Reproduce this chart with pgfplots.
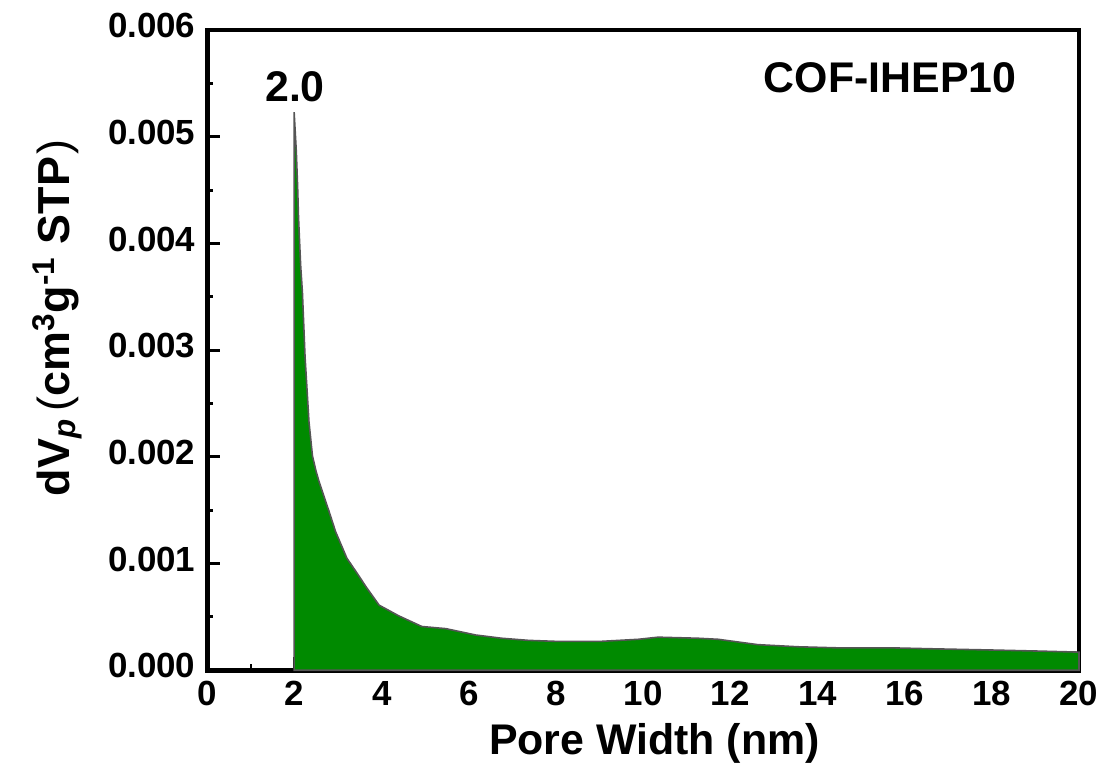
\documentclass[border=0pt]{standalone}
\usepackage{pgfplots}
\pgfplotsset{compat=1.18}
\usepackage{fontspec}
\setmainfont{Liberation Sans}
\definecolor{fillgreen}{RGB}{0,138,0}
\definecolor{edgegray}{RGB}{85,85,85}
\begin{document}
\begin{tikzpicture}
\begin{axis}[
  scale only axis,
  width=437pt, height=321pt,
  xmin=0, xmax=20, ymin=0, ymax=0.006,
  xtick={0,2,...,20},
  ytick={0,0.001,...,0.006},
  minor x tick num=1, minor y tick num=1,
  tick align=inside,
  xtick pos=bottom, ytick pos=left,
  major tick length=6.5pt, minor tick length=3pt,
  every tick/.style={black, line width=1.5pt},
  axis line style={line width=2.3pt},
  scaled y ticks=false,
  typeset ticklabels with strut,
  /pgf/number format/assume math mode=true,
  yticklabel style={/pgf/number format/fixed, /pgf/number format/fixed zerofill, /pgf/number format/precision=3, font=\fontsize{17.5}{19}\selectfont\bfseries, xshift=-2.5pt},
  xticklabel style={font=\fontsize{17.5}{19}\selectfont\bfseries, yshift=-1pt},
  xlabel={\bfseries Pore Width (nm)},
  ylabel={\bfseries dV\textsubscript{\textit{p}}\,{\mdseries(}cm\textsuperscript{3}g\textsuperscript{-1} STP\kern1pt{\mdseries)}},
  xlabel style={font=\fontsize{21.5}{24}\selectfont, at={(rel axis cs:0.513,-0.114)}, anchor=center},
  ylabel style={font=\fontsize{22.5}{24}\selectfont, at={(rel axis cs:-0.172,0.55)}, anchor=center},
  clip=false,
]
\addplot[fill=fillgreen, draw=edgegray, line width=0.8pt] coordinates {
(1.99,0) (1.99,0.00523) (2.04,0.00486) (2.07,0.00453) (2.09,0.00425)
(2.12,0.00397) (2.14,0.00379) (2.18,0.00354) (2.24,0.00294) (2.33,0.00233)
(2.41,0.00201) (2.49,0.00187) (2.56,0.00177) (2.79,0.00149) (2.94,0.00130)
(3.20,0.00105) (3.40,0.00093) (3.66,0.00077) (3.94,0.00061) (4.39,0.00051)
(4.92,0.00041) (5.47,0.00039) (6.16,0.00033) (6.75,0.00030) (7.37,0.00028)
(8.05,0.00027) (9.0,0.00027) (9.89,0.00029) (10.34,0.00031) (11.26,0.00030)
(11.72,0.00029) (12.63,0.00024) (13.55,0.00022) (14.46,0.00021) (15.68,0.00021)
(16.75,0.00020) (17.96,0.00019) (19.04,0.00018) (20,0.00017)
} \closedcycle;
\node[font=\fontsize{21.5}{24}\selectfont\bfseries] at (axis cs:2.01,0.00547) {2.0};
\node[font=\fontsize{21.5}{24}\selectfont\bfseries] at (axis cs:15.67,0.005556) {COF-IHEP10};
\path (rel axis cs:-0.238,-0.156) (rel axis cs:1.026,1.047);
\end{axis}
\end{tikzpicture}
\end{document}
